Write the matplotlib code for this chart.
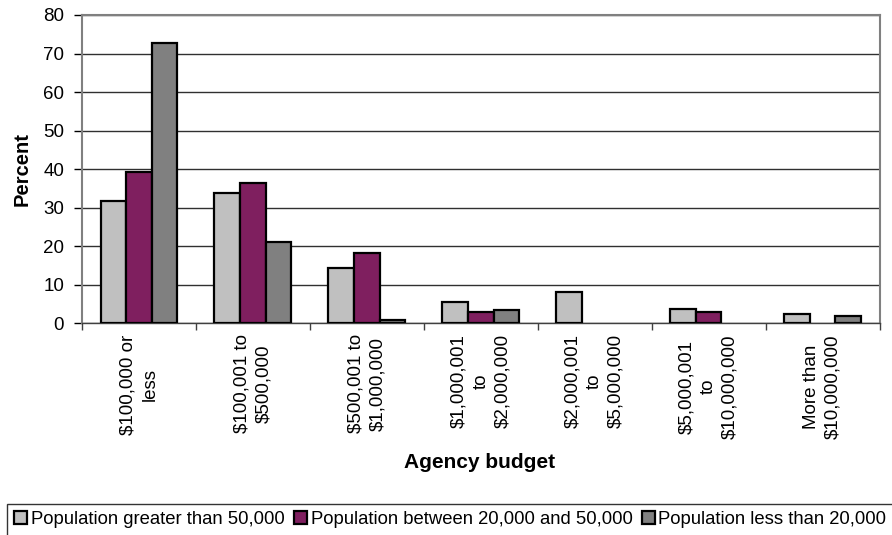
import numpy as np
import matplotlib.pyplot as plt

plt.rcParams["font.family"] = ["Liberation Sans", "DejaVu Sans"]

# Share of agencies in each budget band, by population served
budgets = [
    "$100,000 or\nless",
    "$100,001 to\n$500,000",
    "$500,001 to\n$1,000,000",
    "$1,000,001\nto\n$2,000,000",
    "$2,000,001\nto\n$5,000,000",
    "$5,000,001\nto\n$10,000,000",
    "More than\n$10,000,000",
]
series_names = [
    "Population greater than 50,000",
    "Population between 20,000 and 50,000",
    "Population less than 20,000",
]
pop_over_50k = [31.8, 33.8, 14.3, 5.4, 8.0, 3.7, 2.3]
pop_20k_50k = [39.3, 36.3, 18.1, 2.8, 0.0, 2.9, 0.0]
pop_under_20k = [72.7, 21.0, 0.7, 3.4, 0.0, 0.0, 1.8]

colors = ["#C0C0C0", "#7F1F5F", "#808080"]

fig = plt.figure(figsize=(8.92, 5.35), dpi=100)
ax = fig.add_axes([0.092, 0.396, 0.894, 0.576])

x = np.arange(len(budgets))
w = 0.225
for i, vals in enumerate([pop_over_50k, pop_20k_50k, pop_under_20k]):
    vals = np.array(vals)
    keep = vals > 0  # empty bands get no bar at all
    ax.bar(x[keep] + (i - 1) * w, vals[keep], width=w, color=colors[i],
           edgecolor="black", linewidth=1.6, label=series_names[i], zorder=3)

ax.set_xlim(-0.5, len(budgets) - 0.5)
ax.set_ylim(0, 80)
ax.set_yticks(range(0, 81, 10))
ax.tick_params(axis="y", labelsize=13.5, length=6, width=1, direction="out", pad=7)
ax.yaxis.grid(True, color="#303030", linewidth=1, zorder=0)

# category ticks sit on the boundaries between groups
ax.set_xticks(np.arange(-0.5, len(budgets)), minor=False)
ax.set_xticklabels([])
ax.tick_params(axis="x", which="major", length=5, width=1, color="#404040")
ax.set_xticks(x, minor=True)
ax.set_xticklabels(budgets, minor=True, rotation=90, fontsize=13.5,
                   ha="center", va="top", linespacing=1.35)
ax.tick_params(axis="x", which="minor", length=0, pad=8)

for s in ["top", "right", "left"]:
    ax.spines[s].set_color("#808080")
    ax.spines[s].set_linewidth(1.5)
ax.spines["bottom"].set_color("#404040")
ax.spines["bottom"].set_linewidth(1)

ax.set_ylabel("Percent", fontsize=14.5, fontweight="bold", labelpad=8)
fig.text(0.538, 1 - 462 / 535, "Agency budget", ha="center", va="center",
         fontsize=15, fontweight="bold")

leg = fig.legend(loc="upper left", bbox_to_anchor=(7 / 892, 1 - 504 / 535),
                 ncol=3, frameon=True, fancybox=False, borderaxespad=0,
                 handlelength=0.7, handleheight=0.7, handletextpad=0.2,
                 columnspacing=0.5, borderpad=0.4,
                 prop={"size": 13.3})
leg.get_frame().set_edgecolor("black")
leg.get_frame().set_linewidth(1)

fig.savefig("out.png", dpi=100)
